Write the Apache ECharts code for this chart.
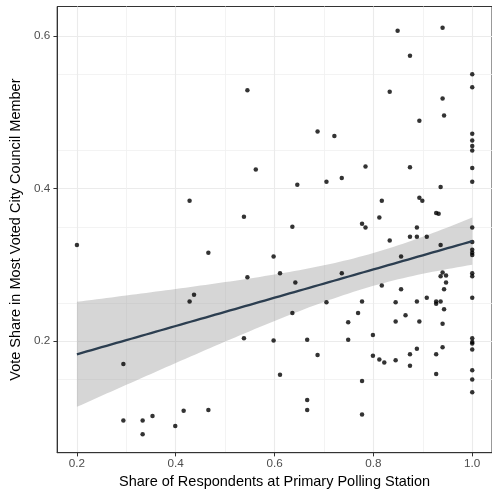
<!DOCTYPE html>
<html>
<head>
<meta charset="utf-8">
<script src="https://cdn.jsdelivr.net/npm/echarts@6/dist/echarts.min.js"></script>
<style>
html,body{margin:0;padding:0;background:#fff;}
#chart{width:492px;height:495px;}
</style>
</head>
<body>
<div id="chart"></div>
<script>
// Share of respondents at primary polling station (x) and vote share (y)
const xs = [
0.545,0.562,0.428,0.538,
0.849,0.940,0.874,1.0,1.0,0.833,0.940,0.943,0.893,0.687,0.721,1.0,1.0,1.0,1.0,0.784,0.874,1.0,0.736,0.705,1.0,0.646,0.936,0.817,0.893,0.899,0.927,0.932,0.812,0.777,0.784,0.636,0.888,1.0,
0.2,0.466,0.598,0.545,0.437,0.428,0.538,0.598,0.294,0.466,0.416,0.353,0.294,0.333,0.399,0.333,
0.874,0.888,0.908,0.833,1.0,0.936,1.0,1.0,1.0,0.856,0.611,0.736,0.642,0.940,0.936,0.947,0.947,1.0,1.0,0.817,0.856,0.943,0.705,0.777,0.845,0.888,0.908,0.927,0.927,0.936,0.943,1.0,0.636,0.769,0.865,0.749,0.845,0.893,0.940,0.799,0.666,0.749,1.0,1.0,1.0,1.0,0.687,0.799,0.812,0.822,0.845,0.874,0.888,0.927,0.940,0.874,0.611,0.927,1.0,1.0,1.0,0.777,0.666,0.666,0.777
];
const ys = [
0.529,0.425,0.384,0.363,
0.607,0.611,0.574,0.550,0.533,0.527,0.518,0.496,0.489,0.475,0.469,0.472,0.463,0.456,0.450,0.429,0.428,0.427,0.414,0.409,0.409,0.405,0.402,0.384,0.388,0.384,0.368,0.367,0.362,0.354,0.349,0.350,0.349,0.349,
0.326,0.316,0.311,0.284,0.261,0.252,0.204,0.201,0.170,0.110,0.109,0.102,0.096,0.096,0.089,0.078,
0.337,0.337,0.337,0.332,0.330,0.326,0.320,0.316,0.313,0.311,0.289,0.289,0.277,0.290,0.285,0.286,0.277,0.289,0.285,0.273,0.268,0.268,0.251,0.252,0.251,0.252,0.257,0.252,0.249,0.252,0.242,0.257,0.237,0.237,0.234,0.225,0.226,0.226,0.223,0.208,0.202,0.202,0.204,0.199,0.197,0.189,0.182,0.181,0.176,0.172,0.175,0.183,0.190,0.183,0.192,0.168,0.156,0.157,0.162,0.150,0.133,0.148,0.123,0.110,0.104
];
const xTicks = [0.2, 0.4, 0.6, 0.8, 1.0];
const yTicks = [0.2, 0.4, 0.6];
const xTitle = 'Share of Respondents at Primary Polling Station';
const yTitle = 'Vote Share in Most Voted City Council Member';

// linear model fit with 95% confidence band (like geom_smooth(method = "lm"))
const n = xs.length;
const mx = xs.reduce((a, b) => a + b, 0) / n;
const my = ys.reduce((a, b) => a + b, 0) / n;
let sxx = 0, sxy = 0;
for (let i = 0; i < n; i++) { sxx += (xs[i] - mx) ** 2; sxy += (xs[i] - mx) * (ys[i] - my); }
const b1 = sxy / sxx, b0 = my - b1 * mx;
let sse = 0;
for (let i = 0; i < n; i++) sse += (ys[i] - b0 - b1 * xs[i]) ** 2;
const s = Math.sqrt(sse / (n - 2));
const tq = 1.979;
const xmin = Math.min(...xs), xmax = Math.max(...xs);
const fitLine = [], lowerBand = [], upperBand = [];
for (let k = 0; k <= 80; k++) {
  const x = xmin + (xmax - xmin) * k / 80;
  const f = b0 + b1 * x;
  const se = s * Math.sqrt(1 / n + (x - mx) ** 2 / sxx);
  fitLine.push([x, f]);
  lowerBand.push([x, f - tq * se]);
  upperBand.push([x, f + tq * se]);
}
const bandPoly = lowerBand.concat(upperBand.slice().reverse());
const points = xs.map((x, i) => [x, ys[i]]);

const chart = echarts.init(document.getElementById('chart'), null, {renderer: 'canvas'});
const font = 'Liberation Sans, Arial, Helvetica, sans-serif';
chart.setOption({
  animation: false,
  backgroundColor: '#ffffff',
  grid: {left: 57, top: 6.5, width: 438, height: 446.2, show: true, borderColor: '#333333', borderWidth: 1, backgroundColor: '#ffffff', containLabel: false},
  xAxis: {
    type: 'value', min: 0.16, max: 1.04,
    name: xTitle, nameLocation: 'middle', nameGap: 21,
    nameTextStyle: {color: '#000', fontSize: 14.5, fontFamily: font},
    axisLine: {show: true, onZero: false, lineStyle: {color: '#333333', width: 1}},
    axisTick: {show: true, length: 3.7, customValues: xTicks, lineStyle: {color: '#333333', width: 1}},
    axisLabel: {customValues: xTicks, margin: 5, color: '#4D4D4D', fontSize: 11.7, fontFamily: font, formatter: v => v.toFixed(1)},
    splitLine: {show: true, lineStyle: {color: '#EBEBEB', width: 1.1}},
    minorTick: {show: false, splitNumber: 2},
    minorSplitLine: {show: true, lineStyle: {color: '#F0F0F0', width: 0.8}}
  },
  yAxis: {
    type: 'value', min: 0.0539, max: 0.6387,
    name: yTitle, nameLocation: 'middle', nameGap: 20,
    nameTextStyle: {color: '#000', fontSize: 14.5, fontFamily: font},
    axisLine: {show: true, onZero: false, lineStyle: {color: '#333333', width: 1}},
    axisTick: {show: true, length: 3.7, customValues: yTicks, lineStyle: {color: '#333333', width: 1}},
    axisLabel: {customValues: yTicks, margin: 7, color: '#4D4D4D', fontSize: 11.7, fontFamily: font, formatter: v => v.toFixed(1)},
    splitLine: {show: true, lineStyle: {color: '#EBEBEB', width: 1.1}},
    minorTick: {show: false, splitNumber: 2},
    minorSplitLine: {show: true, lineStyle: {color: '#F0F0F0', width: 0.8}}
  },
  series: [
    {type: 'scatter', data: points, symbol: 'circle', symbolSize: 4.5, itemStyle: {color: '#000000'}, clip: false},
    {
      type: 'custom', data: bandPoly, silent: true,
      renderItem: function (params, api) {
        if (params.dataIndex !== 0) return null;
        const pts = bandPoly.map(p => api.coord(p));
        return {type: 'polygon', shape: {points: pts}, style: {fill: 'rgba(153,153,153,0.4)'}};
      }
    },
    {type: 'line', data: fitLine, symbol: 'none', lineStyle: {color: '#2C3E50', width: 2.3}, silent: true}
  ]
});
</script>
</body>
</html>
